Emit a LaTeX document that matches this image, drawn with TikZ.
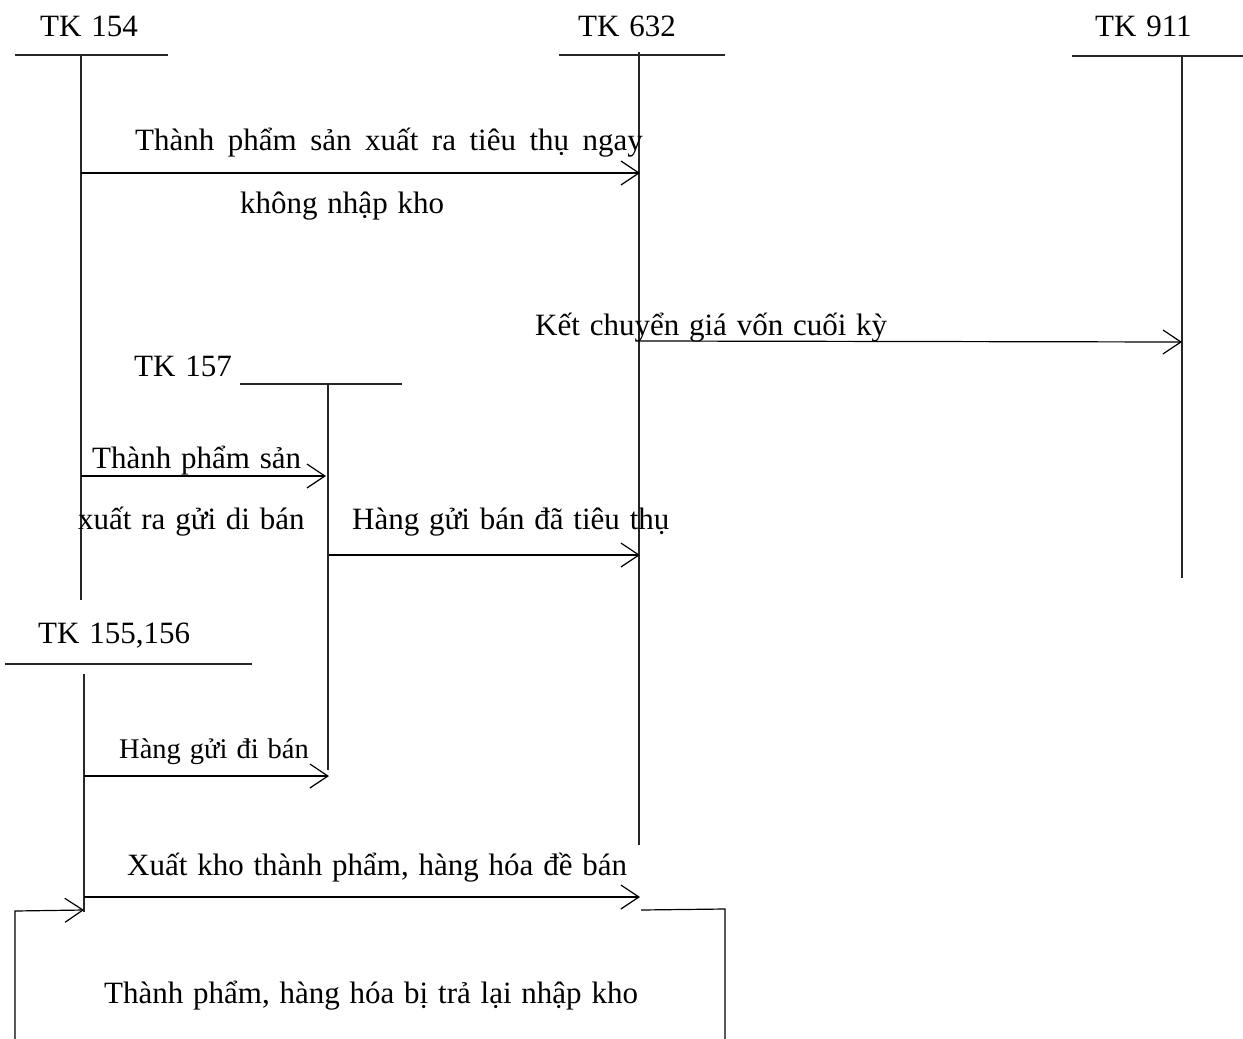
\documentclass[tikz,border=0pt]{standalone}
\usepackage{fontspec}
\setmainfont{Liberation Serif}
\usetikzlibrary{arrows.meta}
\newcommand\acctfont{\fontsize{31}{37}\selectfont\spaceskip 9.8pt\relax}
\newcommand\acctwidefont{\fontsize{31}{37}\selectfont\spaceskip 13.5pt\relax}
\newcommand\acctsmallfont{\fontsize{28.5}{34}\selectfont\spaceskip 9pt\relax}
\begin{document}
\begin{tikzpicture}[x=1pt,y=-1pt,
  acct/.style={line width=1.2pt,draw=black!85},
  flow/.style={line width=1.2pt,draw=black,-{Straight Barb[length=18pt,width=24pt,line width=1.2pt]}},
  plain/.style={line width=1.2pt,draw=black},
  lbl/.style={inner sep=0pt,anchor=base west,font=\acctfont},
  widelbl/.style={lbl,font=\acctwidefont},
  slbl/.style={inner sep=0pt,anchor=base west,font=\acctsmallfont}]
\useasboundingbox (0,0) rectangle (1243,1039);

% account T-shapes
\node[lbl] (n154) at (40,36) {TK 154};
\coordinate (h154a) at (15,55);  \coordinate (h154b) at (168,55);
\coordinate (v154t) at (81,54);  \coordinate (v154b) at (81,600);
\draw[acct] (h154a) -- (h154b);  \draw[acct] (v154t) -- (v154b);

\node[lbl] (n632) at (578,36) {TK 632};
\coordinate (h632a) at (559,55); \coordinate (h632b) at (725,55);
\coordinate (v632t) at (639,52); \coordinate (v632b) at (639,845);
\draw[acct] (h632a) -- (h632b);  \draw[acct] (v632t) -- (v632b);

\node[lbl] (n911) at (1095,36) {TK 911};
\coordinate (h911a) at (1072,56); \coordinate (h911b) at (1243,56);
\coordinate (v911t) at (1182,56); \coordinate (v911b) at (1182,578);
\draw[acct] (h911a) -- (h911b);  \draw[acct] (v911t) -- (v911b);

\node[lbl] (n157) at (134,376) {TK 157};
\coordinate (h157a) at (240,384); \coordinate (h157b) at (402,384);
\coordinate (v157t) at (328,384); \coordinate (v157b) at (328,770);
\draw[acct] (h157a) -- (h157b);  \draw[acct] (v157t) -- (v157b);

\node[lbl] (n155) at (38,643) {TK 155,156};
\coordinate (h155a) at (5,664);  \coordinate (h155b) at (252,664);
\coordinate (v155t) at (84,674); \coordinate (v155b) at (84,912);
\draw[acct] (h155a) -- (h155b);  \draw[acct] (v155t) -- (v155b);

% 154 -> 632
\coordinate (a1s) at (81,173); \coordinate (a1e) at (640,173);
\draw[flow] (a1s) -- (a1e);
\node[widelbl] (t1a) at (135,150) {Thành phẩm sản xuất ra tiêu thụ ngay};
\node[lbl] (t1b) at (240,213) {không nhập kho};

% 632 -> 911
\coordinate (a2s) at (639,341); \coordinate (a2e) at (1182,342);
\draw[flow] (a2s) -- (a2e);
\node[lbl] (t2) at (535,335) {Kết chuyển giá vốn cuối kỳ};

% 154 -> 157
\coordinate (a3s) at (81,476); \coordinate (a3e) at (326,476);
\draw[flow] (a3s) -- (a3e);
\node[lbl] (t3a) at (92,468) {Thành phẩm sản};
\node[lbl] (t3b) at (78,529) {xuất ra gửi di bán};

% 157 -> 632
\coordinate (a4s) at (329,555); \coordinate (a4e) at (640,555);
\draw[flow] (a4s) -- (a4e);
\node[lbl] (t4) at (352,529) {Hàng gửi bán đã tiêu thụ};

% 155,156 -> 157
\coordinate (a5s) at (84,776); \coordinate (a5e) at (329,776);
\draw[flow] (a5s) -- (a5e);
\node[slbl] (t5) at (119,758) {Hàng gửi đi bán};

% 155,156 -> 632
\coordinate (a6s) at (84,897); \coordinate (a6e) at (640,897);
\draw[flow] (a6s) -- (a6e);
\node[lbl] (t6) at (127,875) {Xuất kho thành phẩm, hàng hóa đề bán};

% returns back into stock
\coordinate (r1) at (641,910); \coordinate (r2) at (725,909); \coordinate (r3) at (725,1039);
\draw[plain] (r1) -- (r2) -- (r3);
\coordinate (l1) at (15,1039); \coordinate (l2) at (15,911); \coordinate (l3) at (84,910);
\draw[flow] (l1) -- (l2) -- (l3);
\node[lbl] (t7) at (104,1003) {Thành phẩm, hàng hóa bị trả lại nhập kho};
\end{tikzpicture}
\end{document}
